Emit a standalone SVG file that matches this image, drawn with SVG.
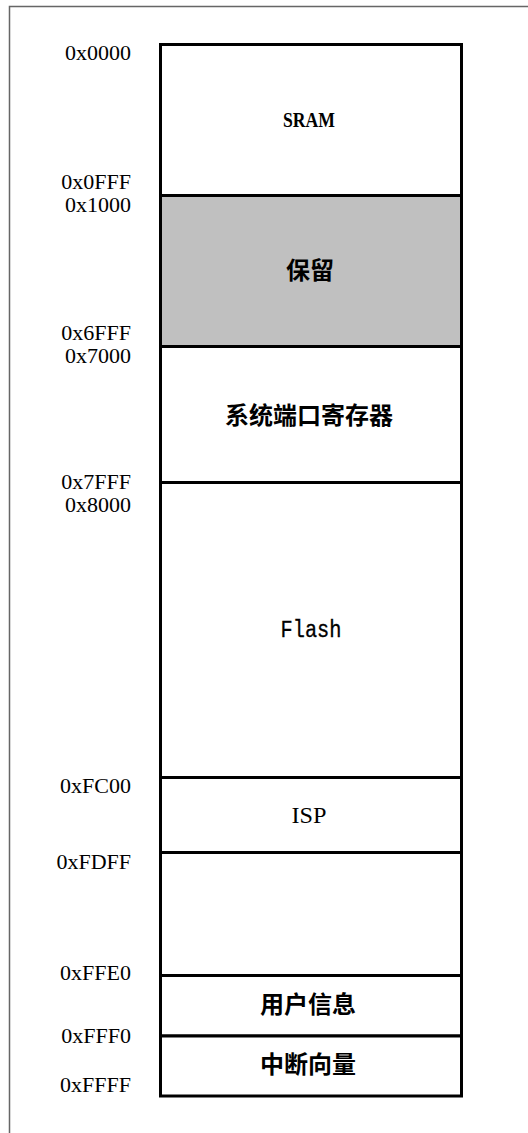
<svg xmlns="http://www.w3.org/2000/svg" width="528" height="1133" viewBox="0 0 528 1133">
<style>
.addr{font-family:"Liberation Serif",serif;font-size:22px;fill:#000;text-anchor:end}
.cn{font-family:"Noto Sans CJK SC",sans-serif;font-size:24px;font-weight:bold;fill:#000;text-anchor:middle}
.seg{stroke:#000;stroke-width:3;fill:#fff}
</style>
<rect x="0" y="0" width="528" height="1133" fill="#fff"/>
<path d="M9.5,1133 V6.5 H528" fill="none" stroke="#666" stroke-width="1.5"/>
<g id="sram"><rect class="seg" x="160.5" y="44.5" width="301" height="151"/>
<text x="309" y="127" font-family="Liberation Serif,serif" font-weight="bold" font-size="22" text-anchor="middle" textLength="52" lengthAdjust="spacingAndGlyphs">SRAM</text></g>
<g id="reserved"><rect class="seg" x="160.5" y="195.5" width="301" height="151" style="fill:#c0c0c0"/>
<text class="cn" x="310" y="279">保留</text></g>
<g id="sysport"><rect class="seg" x="160.5" y="346.5" width="301" height="136"/>
<text class="cn" x="309" y="424">系统端口寄存器</text></g>
<g id="flash"><rect class="seg" x="160.5" y="482.5" width="301" height="295"/>
<text x="311" y="637" font-family="Liberation Mono,monospace" font-size="23" text-anchor="middle" textLength="61" lengthAdjust="spacingAndGlyphs" stroke="#000" stroke-width="0.3">Flash</text></g>
<g id="isp"><rect class="seg" x="160.5" y="777.5" width="301" height="75"/>
<text x="309" y="823" font-family="Liberation Serif,serif" font-size="24" text-anchor="middle" textLength="35" lengthAdjust="spacingAndGlyphs">ISP</text></g>
<g id="blank"><rect class="seg" x="160.5" y="852.5" width="301" height="123"/></g>
<g id="userinfo"><rect class="seg" x="160.5" y="975.5" width="301" height="60.5"/>
<text class="cn" x="308" y="1013">用户信息</text></g>
<g id="vector"><rect class="seg" x="160.5" y="1036" width="301" height="60"/>
<text class="cn" x="308" y="1073">中断向量</text></g>
<g id="addresses">
<text class="addr" x="131" y="60">0x0000</text>
<text class="addr" x="131" y="189">0x0FFF</text>
<text class="addr" x="131" y="212">0x1000</text>
<text class="addr" x="131" y="340">0x6FFF</text>
<text class="addr" x="131" y="363">0x7000</text>
<text class="addr" x="131" y="489">0x7FFF</text>
<text class="addr" x="131" y="512">0x8000</text>
<text class="addr" x="131" y="793">0xFC00</text>
<text class="addr" x="131" y="869">0xFDFF</text>
<text class="addr" x="131" y="980">0xFFE0</text>
<text class="addr" x="131" y="1043">0xFFF0</text>
<text class="addr" x="131" y="1092">0xFFFF</text>
</g>
<g id="connectors"></g>
</svg>
